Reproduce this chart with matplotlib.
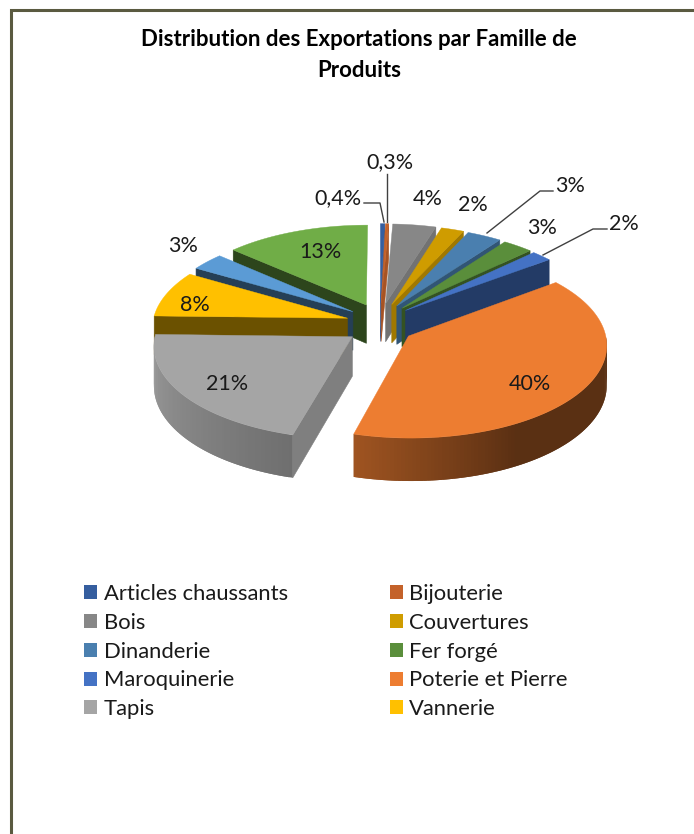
import numpy as np
from matplotlib import pyplot as plt
from matplotlib.collections import PolyCollection
from matplotlib.patches import Patch, Polygon

plt.rcParams['font.family'] = ['Lato', 'DejaVu Sans']

title = 'Distribution des Exportations par Famille de\nProduits'
# the source legend is cut after ten names, the last two slices have no name
categories = ['Articles chaussants', 'Bijouterie', 'Bois', 'Couvertures',
              'Dinanderie', 'Fer forgé', 'Maroquinerie', 'Poterie et Pierre',
              'Tapis', 'Vannerie']
values = [0.4, 0.3, 4.0, 2.1, 3.2, 2.8, 1.9, 39.6, 21.1, 8.1, 3.1, 13.4]
colors = ['#355E9F', '#C4622A', '#878787', '#CF9C00', '#4A7FAF', '#5A8E3B',
          '#4472C4', '#ED7D31', '#A5A5A5', '#FFC000', '#5B9BD5', '#70AD47']
label_pos = [(338, 198), (390, 162), (428, 199), (473, 205), (570, 186),
             (542, 228), (624, 224), (530, 384), (227, 384), (195, 305),
             (183, 246), (320, 252)]
leaders = {0: [(364, 203), (380, 203), (384, 222)],
           1: [(387, 174), (387, 222)],
           4: [(553, 191), (540, 191), (487, 233)],
           6: [(607, 229), (593, 229), (543, 255)]}

# pie geometry in pixels
cx, cy = 380, 324
R = 195
ky = 0.47
persp = 0.09
ex, ey = 34, 45
depth = 39


def project(theta, rho, mid, z=0):
    t = np.radians(theta)
    m = np.radians(mid)
    x = R * rho * np.sin(t) + ex * np.sin(m)
    y = -R * rho * np.cos(t) - ey * np.cos(m)
    s = 1 + persp * y / R
    return cx + x * s, cy + ky * y * s + z * depth * s


def shaded(color, f):
    rgb = np.array(plt.matplotlib.colors.to_rgb(color))
    return tuple(rgb * f)


def rim_shade(theta):
    return np.interp(theta, [90, 150, 195, 270], [0.38, 0.38, 0.67, 0.95])


def cut_shade(theta):
    return np.interp(theta, [16, 52, 195, 270, 310], [0.85, 0.52, 0.77, 0.42, 0.4])


def draw_slice(ax, t1, t2, color):
    mid = (t1 + t2) / 2
    # cut faces that look at the viewer
    for theta, visible in ((t1, 180 < t1 < 360), (t2, 0 < t2 < 180)):
        if not visible:
            continue
        pts = [project(theta, 0, mid), project(theta, 1, mid),
               project(theta, 1, mid, 1), project(theta, 0, mid, 1)]
        c = shaded(color, cut_shade(theta))
        ax.add_patch(Polygon(pts, closed=True, fc=c, ec=c, lw=0.4))
    # outer rim, small overlapping quads for the gradient
    a, b = max(t1, 90), min(t2, 270)
    if b > a:
        edges = np.linspace(a, b, int(b - a) + 2)
        step = edges[1] - edges[0]
        quads = []
        cols = []
        for e1 in edges[:-1]:
            e2 = min(e1 + 2 * step, b)
            quads.append([project(e1, 1, mid), project(e2, 1, mid),
                          project(e2, 1, mid, 1), project(e1, 1, mid, 1)])
            cols.append(shaded(color, rim_shade(e1 + step / 2)))
        ax.add_collection(PolyCollection(quads, facecolors=cols, edgecolors='none'))
    # top face
    arc = np.linspace(t1, t2, max(int(t2 - t1) * 2, 2) + 1)
    pts = [project(t1, 0, mid)] + [project(th, 1, mid) for th in arc]
    ax.add_patch(Polygon(pts, closed=True, fc=color, ec=color, lw=0.3))


fig = plt.figure(figsize=(6.94, 8.34), dpi=100)
ax = fig.add_axes([0, 0, 1, 1])
ax.set_xlim(0, 694)
ax.set_ylim(834, 0)
ax.axis('off')

# page border
ax.plot([11, 11, 694], [834, 10, 10], color='#5A5A40', lw=2.2, solid_joinstyle='miter')

ax.text(359, 55, title, ha='center', va='center', fontsize=16, fontweight='bold',
        color='black', linespacing=1.55)

bounds = np.cumsum([0] + values) / sum(values) * 360
order = sorted(range(len(values)),
               key=lambda i: -np.cos(np.radians((bounds[i] + bounds[i + 1]) / 2)))
for i in order:
    draw_slice(ax, bounds[i], bounds[i + 1], colors[i])

for i, v in enumerate(values):
    txt = f'{v:.1f}%'.replace('.', ',') if v < 1 else f'{v:.0f}%'
    ax.text(label_pos[i][0], label_pos[i][1], txt, ha='center', va='center',
            fontsize=15.5, color='#1a1a1a')

for pts in leaders.values():
    xs, ys = zip(*pts)
    ax.plot(xs, ys, color='#404040', lw=1)

# filled row by row in the source, matplotlib fills column by column
shown = [0, 2, 4, 6, 8, 1, 3, 5, 7, 9]
handles = [Patch(fc=colors[i], ec='none') for i in shown]
ax.legend(handles, [categories[i] for i in shown], ncol=2, frameon=False,
          loc='upper left', bbox_to_anchor=(0.121, 0.2998), fontsize=15.8,
          handlelength=0.6, handleheight=0.6, handletextpad=0.3,
          labelspacing=0.40, columnspacing=4.64, labelcolor='#1a1a1a',
          borderpad=0, borderaxespad=0)

fig.savefig('out.png', dpi=100)
